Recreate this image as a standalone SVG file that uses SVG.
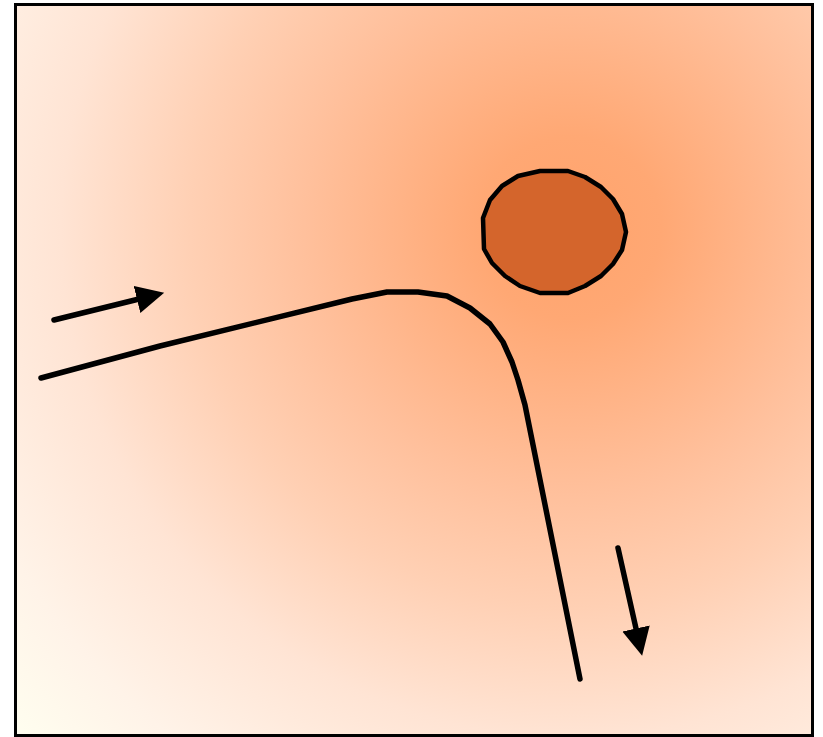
<svg xmlns="http://www.w3.org/2000/svg" width="823" height="737" viewBox="0 0 823 737">
<style>
.line{fill:none;stroke:#000;stroke-width:5.5;stroke-linecap:round;stroke-linejoin:round}
.arrow{fill:none;stroke:#000;stroke-width:5.5;stroke-linecap:round}
</style>
<defs>
<radialGradient id="bg" gradientUnits="userSpaceOnUse" cx="570" cy="228" r="760">
<stop offset="0" stop-color="#FFA36C"/>
<stop offset="0.12" stop-color="#FFA874"/>
<stop offset="0.35" stop-color="#FFC09C"/>
<stop offset="0.5" stop-color="#FFD0B4"/>
<stop offset="0.67" stop-color="#FFE4D4"/>
<stop offset="0.85" stop-color="#FFF3E8"/>
<stop offset="1" stop-color="#FFFFF0"/>
</radialGradient>
<marker id="head" markerUnits="userSpaceOnUse" markerWidth="30" markerHeight="30" refX="0" refY="14" orient="auto" viewBox="0 0 30 30">
<path d="M0,0 L28,14 L0,28 z" fill="#000"/>
</marker>
</defs>
<rect id="frame" x="15.5" y="4.5" width="797" height="731" fill="url(#bg)" stroke="#000" stroke-width="3"/>
<g id="obstacle">
<polygon points="540,171 568,171 585,177 601,187 613,199 622,214 626,232 622,250 613,264 601,276 585,286 568,293 540,293 520,286 505,276 492,263 484,249 483,218 490,200 502,186 518,176" fill="#D4652C" stroke="#000" stroke-width="4.5" stroke-linejoin="round"/>
</g>
<g id="trajectory">
<polyline class="line" points="41,378 160,346 352,299 387,292 418,292 447,296 470,308 490,324 503,342 512,362 518,380 525,405 580,679"/>
</g>
<g id="connectors">
<line class="arrow" x1="54" y1="320" x2="137" y2="299.5" marker-end="url(#head)"/>
<line class="arrow" x1="618" y1="548" x2="636" y2="628.5" marker-end="url(#head)"/>
</g>
</svg>
